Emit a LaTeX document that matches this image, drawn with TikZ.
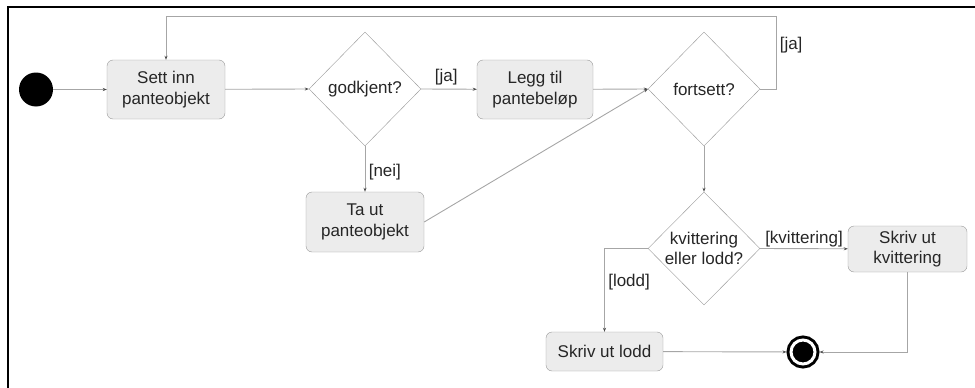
\documentclass[tikz,border=0pt]{standalone}
\usepackage{fontspec}
\setmainfont{Liberation Sans}
\usetikzlibrary{shapes.geometric, arrows.meta}

\begin{document}
\begin{tikzpicture}[x=1pt, y=-1pt]

\tikzstyle{activity} = [rectangle, draw=gray!80, fill=gray!15, text=black!85, align=center, rounded corners=6pt, minimum width=118pt, font=\fontsize{17}{20.5}\selectfont]
\tikzstyle{decision} = [diamond, draw=gray!80, fill=white, text=black!85, align=center, inner sep=-4pt, minimum width=112pt, minimum height=114pt, font=\fontsize{17}{20.5}\selectfont]
\tikzstyle{arrow} = [draw=gray!70, line width=0.9pt, -{Stealth[length=4pt, width=3pt, color=black!70]}]
\tikzstyle{guard} = [text=black!85, font=\fontsize{17}{20.5}\selectfont]

\useasboundingbox (0,0) rectangle (975,388);
\draw [line width=2pt] (8,388) -- (8,6.5) -- (975,6.5);

\node (start) [circle, fill=black, minimum size=34pt, inner sep=0pt] at (36,89.5) {};

\node (sett) [activity, minimum height=59pt] at (166,89.5) {Sett inn\\panteobjekt};

\node (godkjent) [decision] at (365,89) {godkjent?};

\node (legg) [activity, minimum width=116pt, minimum height=59pt] at (535,89.5) {Legg til\\pantebeløp};

\node (fortsett) [decision] at (704,89) {fortsett?};

\node (taut) [activity, minimum height=60pt] at (365,222) {Ta ut\\panteobjekt};

\node (valg) [decision, minimum height=113pt] at (704,248.5) {kvittering\\eller lodd?};

\node (kvittering) [activity, minimum width=119pt, minimum height=46pt] at (907.5,249) {Skriv ut\\kvittering};

\node (lodd) [activity, minimum width=117pt, minimum height=39pt] at (604.5,351.5) {Skriv ut lodd};

\node (slutt) [circle, fill=black, draw=black, line width=3pt, double=white, double distance=3pt, minimum size=24pt, inner sep=0pt, outer sep=4.5pt] at (803,352) {};

\coordinate (loop) at (776,16);

\draw [arrow] (start) -- (sett);
\draw [arrow] (sett) -- (godkjent.west);
\draw [arrow] (godkjent.east) -- node [guard, above, pos=0.45] {[ja]} (legg);
\draw [arrow] (godkjent.south) -- node [guard, right, pos=0.57] {[nei]} (taut);
\draw [arrow] (legg) -- (fortsett.west);
\draw [arrow] (taut.east) -- (fortsett.west);
\draw [arrow] (fortsett.east) -| node [guard, right, pos=0.8] {[ja]} (loop) -| (sett.north);
\draw [arrow] (fortsett.south) -- (valg.north);
\draw [arrow] (valg.east) -- node [guard, above, pos=0.5, yshift=-2pt] {[kvittering]} (kvittering);
\draw [arrow] (valg.west) -| node [guard, right, pos=0.7] {[lodd]} (lodd.north);
\draw [arrow] (lodd) -- (slutt);
\draw [arrow] (kvittering.south) |- (slutt.east);

\end{tikzpicture}
\end{document}
